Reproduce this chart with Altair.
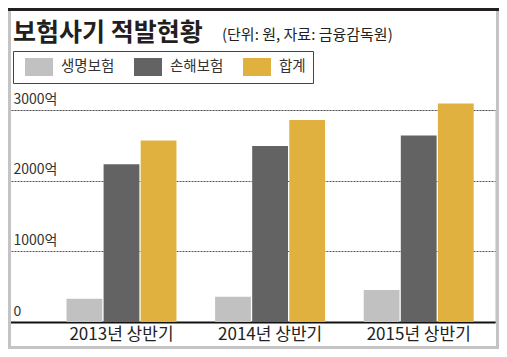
import altair as alt
import pandas as pd

FONT = "Noto Sans CJK KR"

TITLE = "보험사기 적발현황"
SUBTITLE = "(단위: 원, 자료: 금융감독원)"
periods = ["2013년 상반기", "2014년 상반기", "2015년 상반기"]
series = ["생명보험", "손해보험", "합계"]
life = [329, 357, 454]
nonlife = [2232, 2490, 2639]
total = [2569, 2857, 3093]
colors = ["#c1c1c1", "#636363", "#e1b13f"]
y_ticks = [0, 1000, 2000, 3000]

rows = []
for i, p in enumerate(periods):
    for s, vals in zip(series, [life, nonlife, total]):
        rows.append({"period": p, "series": s, "value": vals[i]})
df = pd.DataFrame(rows)

rect_path = "M-1.556,-1H1.556V1H-1.556Z"

W, H = 487, 212
PAD = {"left": 0, "top": 102, "right": 4, "bottom": 27}
TOTAL_W = W + PAD["left"] + PAD["right"]   # 491
TOTAL_H = H + PAD["top"] + PAD["bottom"]   # 341

bars = alt.Chart(df).mark_bar().encode(
    x=alt.X(
        "period:N", sort=periods,
        scale=alt.Scale(paddingInner=0.26, paddingOuter=0.2685, align=0.733),
        axis=alt.Axis(title=None, labelAngle=0, domainColor="#111", domainWidth=2,
                      ticks=False, tickSize=0, labelPadding=4, labelFontSize=17,
                      labelColor="#222", labelFont=FONT, grid=False),
    ),
    xOffset=alt.XOffset("series:N", sort=series,
                        scale=alt.Scale(paddingInner=0.035, paddingOuter=0)),
    y=alt.Y(
        "value:Q", scale=alt.Scale(domain=[0, 3000], nice=False),
        axis=alt.Axis(title=None, values=y_ticks,
                      labelExpr="datum.value == 0 ? '0' : datum.value + '억'",
                      orient="left", labelAlign="left", labelBaseline="alphabetic",
                      labelPadding=-5, labelOffset=-7, ticks=False, tickSize=0,
                      domain=False, grid=True, gridColor="#555", gridDash=[2, 1],
                      gridWidth=1, labelFontSize=14, labelColor="#333", labelFont=FONT),
    ),
    color=alt.Color(
        "series:N", sort=series,
        scale=alt.Scale(domain=series, range=colors),
        legend=alt.Legend(title=None, orient="none", legendX=5, legendY=-59,
                          direction="horizontal", symbolType=rect_path, symbolSize=324,
                          symbolOffset=10, labelOffset=13, columnPadding=14, padding=7,
                          strokeColor="#444", fillColor="white", labelFontSize=14.5,
                          labelColor="#333", labelFont=FONT, symbolStrokeWidth=0,
                          symbolOpacity=1),
    ),
)

tdf = pd.DataFrame({"t": [TITLE]})
sdf = pd.DataFrame({"t": [SUBTITLE]})
title_text = alt.Chart(tdf).mark_text(
    align="left", baseline="alphabetic", fontSize=25, fontWeight="bold",
    font=FONT, color="#231f20"
).encode(x=alt.value(5), y=alt.value(-69), text="t:N")
sub_text = alt.Chart(sdf).mark_text(
    align="left", baseline="alphabetic", fontSize=15, font=FONT, color="#231f20"
).encode(x=alt.value(214), y=alt.value(-70), text="t:N")

fdf = pd.DataFrame({"k": [0]})
top_y = -PAD["top"]
bot_y = TOTAL_H - PAD["top"]
top_bar = alt.Chart(fdf).mark_rule(color="#231f20", strokeWidth=3).encode(
    x=alt.value(0), x2=alt.value(TOTAL_W), y=alt.value(top_y + 1.5))
left_bar = alt.Chart(fdf).mark_rule(color="#c4c4c4", strokeWidth=3).encode(
    x=alt.value(1.5), y=alt.value(top_y + 2), y2=alt.value(bot_y))
right_bar = alt.Chart(fdf).mark_rule(color="#c4c4c4", strokeWidth=3).encode(
    x=alt.value(TOTAL_W - 1.5), y=alt.value(top_y + 2), y2=alt.value(bot_y))
bottom_bar = alt.Chart(fdf).mark_rule(color="#c4c4c4", strokeWidth=3).encode(
    x=alt.value(0), x2=alt.value(TOTAL_W), y=alt.value(bot_y - 1.5))

chart = alt.layer(
    bars, title_text, sub_text, left_bar, right_bar, bottom_bar, top_bar
).properties(
    width=W, height=H,
    autosize=alt.AutoSizeParams(type="none"),
    padding=PAD,
).configure_view(stroke=None).configure(background="white")

chart.save("out.html", embed_options={"renderer": "svg", "actions": False})
